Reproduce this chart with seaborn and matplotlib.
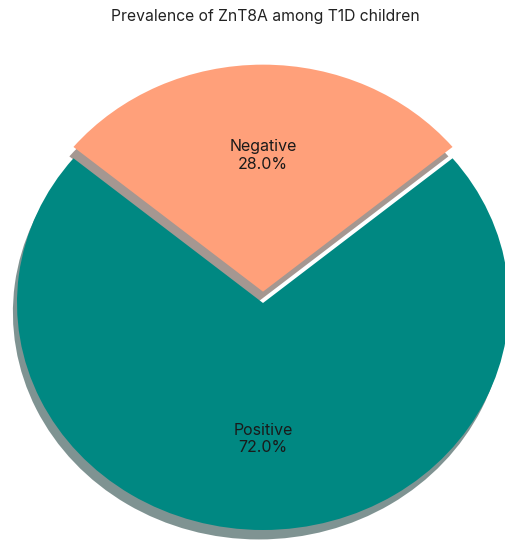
import matplotlib
matplotlib.use("Agg")
import matplotlib.pyplot as plt
import seaborn as sns

sns.set_theme(style="white")
plt.rcParams["font.family"] = ["Inter", "DejaVu Sans"]

# ZnT8A antibody status among children with type 1 diabetes
labels = ["Positive", "Negative"]
shares = [72.0, 28.0]
colors = ["#008882", "#FFA07A"]
explode = [0.0, 0.05]

fig = plt.figure(figsize=(5.05, 5.44), dpi=100)
ax = fig.add_axes([0, 0, 1, 1])

names = iter(labels)
ax.pie(
    shares,
    colors=colors,
    explode=explode,
    startangle=140.4,
    shadow={"ox": -0.012, "oy": -0.03},
    autopct=lambda p: f"{next(names)}\n{p:.1f}%",
    pctdistance=0.6,
    textprops={"fontsize": 11.5, "color": "#1a1a1a"},
    wedgeprops={"linewidth": 0},
)

# stretched (non-equal) aspect, pie runs off the right and bottom edges
ax.set_aspect("auto")
ax.set_xlim(-263 / 246, (505 - 263) / 246)
ax.set_ylim(-241 / 227, 303 / 227)
ax.axis("off")

fig.text(0.525, 1 - 17 / 544, "Prevalence of ZnT8A among T1D children",
         ha="center", va="center", fontsize=11.3, color="#222222")

fig.savefig("out.png", dpi=100)
